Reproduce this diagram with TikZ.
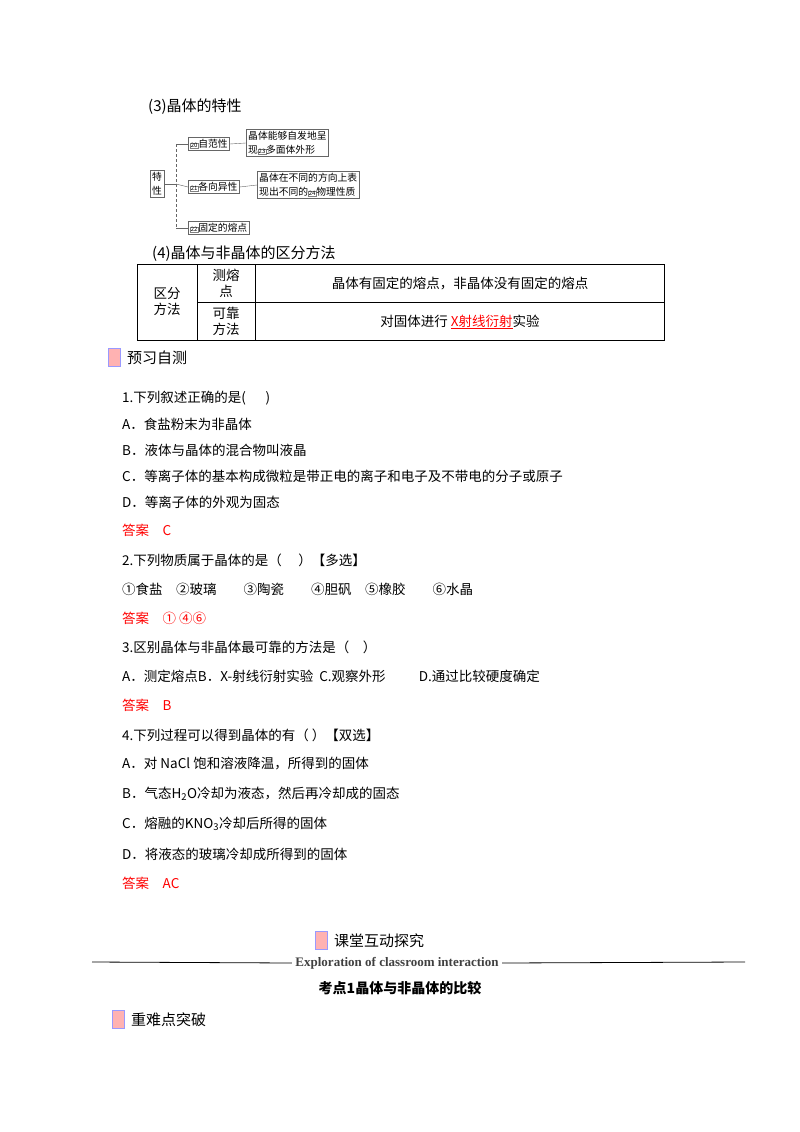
\documentclass[tikz,border=0pt]{standalone}
\usepackage{fontspec}
\setmainfont{Liberation Serif}
\newfontfamily\cjk{Noto Sans CJK SC}
\begin{document}
\begin{tikzpicture}[x=1pt,y=-1pt,
  txt/.style={anchor=west,inner sep=0pt,font=\cjk\fontsize{13.5}{15}\selectfont},
  ans/.style={txt,text=red},
  box/.style={draw=black!60,inner sep=2pt,font=\cjk\fontsize{9.8}{14}\selectfont,align=left},
  num/.style={draw=black!50,inner sep=0.5pt,font=\fontsize{6}{7}\selectfont},
  icon/.style={draw=blue!40,fill=red!30,minimum width=12pt,minimum height=18pt,inner sep=0pt},
  ttl/.style={anchor=west,inner sep=0pt,font=\cjk\fontsize{15}{17}\selectfont},
  tcell/.style={font=\cjk\fontsize{13.5}{16}\selectfont,align=center,inner sep=0pt}]
\useasboundingbox (0,0) rectangle (800,1132);
\node[ttl] (h3) at (148,107) {(3)晶体的特性};
% concept map
\node[box,align=center] (tx) at (157,184) {特\\性};
\node[box,anchor=west] (a1) at (188,144) {\tikz[baseline]\node[num,anchor=base]{20};自范性};
\node[box,anchor=west] (a2) at (188,187) {\tikz[baseline]\node[num,anchor=base]{21};各向异性};
\node[box,anchor=west] (a3) at (188,228) {\tikz[baseline]\node[num,anchor=base]{22};固定的熔点};
\node[box,anchor=west] (b1) at (246,143) {晶体能够自发地呈\\现\tikz[baseline]\node[num,anchor=base]{23};多面体外形};
\node[box,anchor=west] (b2) at (257,185) {晶体在不同的方向上表\\现出不同的\tikz[baseline]\node[num,anchor=base]{24};物理性质};
\coordinate (v) at (176,184);
\draw[black!60] (tx.east) -- (v);
\draw[black!60,densely dashed] (176,144) -- (176,228);
\draw[black!60] (176,144) -- (a1.west);
\draw[black!60] (v) -- (a2.west);
\draw[black!60] (176,228) -- (a3.west);
\draw[black!60] (a1.east) -- (b1.west);
\draw[black!60] (a2.east) -- (b2.west);
% table
\node[ttl] (h4) at (152,254) {(4)晶体与非晶体的区分方法};
\draw (137,264) rectangle (664,340);
\draw (197,264) -- (197,340) (255,264) -- (255,340) (197,302) -- (664,302);
\node[tcell] (c1) at (167,302) {区分\\方法};
\node[tcell] (c2) at (226,283) {测熔\\点};
\node[tcell] (c3) at (226,321) {可靠\\方法};
\node[tcell] (c4) at (460,284) {晶体有固定的熔点，非晶体没有固定的熔点};
\node[tcell] (c5) at (460,322) {对固体进行 \textcolor{red}{\underline{X射线衍射}}实验};
% section
\node[icon] (i1) at (114,357) {};
\node[ttl] (s1) at (127,358) {预习自测};
\node[txt] at (122,398) {1.下列叙述正确的是(\quad\ \ )};
\node[txt] at (122,424) {A．食盐粉末为非晶体};
\node[txt] at (122,450) {B．液体与晶体的混合物叫液晶};
\node[txt] at (122,476) {C．等离子体的基本构成微粒是带正电的离子和电子及不带电的分子或原子};
\node[txt] at (122,502) {D．等离子体的外观为固态};
\node[ans] at (122,530) {答案\quad C};
\node[txt] at (122,560) {2.下列物质属于晶体的是（\quad\ ）【多选】};
\node[txt] at (122,589) {①食盐\quad ②玻璃\qquad ③陶瓷\qquad ④胆矾\quad ⑤橡胶\qquad ⑥水晶};
\node[ans] at (122,618) {答案\quad ①\ ④⑥};
\node[txt] at (122,647) {3.区别晶体与非晶体最可靠的方法是（\quad ）};
\node[txt] at (122,676) {A．测定熔点B．X-射线衍射实验\ \ C.观察外形\qquad\ \ D.通过比较硬度确定};
\node[ans] at (122,705) {答案\quad B};
\node[txt] at (122,735) {4.下列过程可以得到晶体的有（\ ）【双选】};
\node[txt] at (122,764) {A．对 NaCl 饱和溶液降温，所得到的固体};
\node[txt] at (122,794) {B．气态H\textsubscript{2}O冷却为液态，然后再冷却成的固态};
\node[txt] at (122,824) {C．熔融的KNO\textsubscript{3}冷却后所得的固体};
\node[txt] at (122,854) {D．将液态的玻璃冷却成所得到的固体};
\node[ans] at (122,883) {答案\quad AC};
% bottom
\node[icon] (i2) at (321,940) {};
\node[ttl] (s2) at (334,941) {课堂互动探究};
\node[font=\bfseries\fontsize{13}{15}\selectfont,text=black!75] (ex) at (397,963) {Exploration of classroom interaction};
\draw[thick] (92,962) -- (ex.west) (ex.east) -- (745,962);
\node[font=\cjk\bfseries\fontsize{14}{16}\selectfont] (kd) at (400,988) {考点1晶体与非晶体的比较};
\node[icon] (i3) at (118,1019) {};
\node[ttl] (s3) at (131,1020) {重难点突破};
\end{tikzpicture}
\end{document}
